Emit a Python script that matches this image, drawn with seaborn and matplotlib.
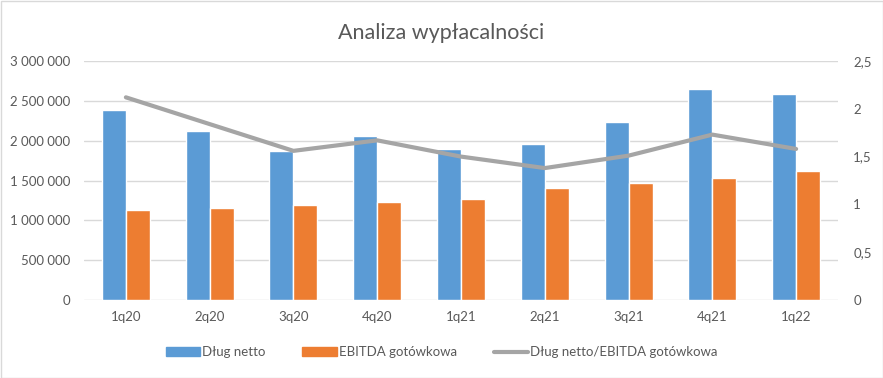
import numpy as np
import pandas as pd
import matplotlib.pyplot as plt
import matplotlib.ticker as mticker
from matplotlib.patches import Rectangle
from matplotlib.lines import Line2D
import seaborn as sns

# Data
quarters = ['1q20', '2q20', '3q20', '4q20', '1q21', '2q21', '3q21', '4q21', '1q22']
dlug_netto = [2387500, 2125000, 1875000, 2062500, 1900000, 1962500, 2237500, 2650000, 2587500]
ebitda = [1125000, 1150000, 1187500, 1225000, 1262500, 1400000, 1462500, 1537500, 1625000]
ratio = [2.12, 1.84, 1.56, 1.67, 1.50, 1.38, 1.51, 1.73, 1.58]

blue = '#5b9bd5'
orange = '#ed7d31'
grey = '#a5a5a5'
text_col = '#595959'

sns.set_style('white')
plt.rcParams['font.family'] = ['Lato', 'DejaVu Sans']

df = pd.DataFrame({
    'kwartal': quarters * 2,
    'wartosc': dlug_netto + ebitda,
    'seria': ['Dług netto'] * len(quarters) + ['EBITDA gotówkowa'] * len(quarters),
})

fig = plt.figure(figsize=(8.83, 3.78), dpi=100)
ax = fig.add_axes([84 / 883, 78 / 378, 754 / 883, 239 / 378])

sns.barplot(data=df, x='kwartal', y='wartosc', hue='seria', palette=[blue, orange],
            width=0.573, saturation=1, ax=ax, legend=False)
ax.set_ylim(0, 3000000)
ax.set_xlim(-0.5, len(quarters) - 0.5)
ax.yaxis.set_major_locator(mticker.MultipleLocator(500000))
ax.yaxis.set_major_formatter(mticker.FuncFormatter(lambda v, p: f'{int(v):,}'.replace(',', ' ')))
ax.grid(axis='y', color='#d9d9d9', linewidth=1)
ax.set_axisbelow(True)
ax.set_xlabel('')
ax.set_ylabel('')
for s in ax.spines.values():
    s.set_visible(False)
ax.tick_params(axis='both', length=0, labelsize=9.5, colors=text_col, pad=8)
ax.tick_params(axis='y', pad=10)

ax2 = ax.twinx()
sns.lineplot(x=np.arange(len(quarters)), y=ratio, color=grey, linewidth=3, ax=ax2)
ax2.set_ylim(0, 2.5)
ax2.yaxis.set_major_locator(mticker.MultipleLocator(0.5))
ax2.yaxis.set_major_formatter(mticker.FuncFormatter(lambda v, p: f'{v:g}'.replace('.', ',')))
for s in ax2.spines.values():
    s.set_visible(False)
ax2.tick_params(axis='y', length=0, labelsize=9.5, colors=text_col, pad=11)

fig.suptitle('Analiza wypłacalności', x=0.5, y=0.94, fontsize=15.5, color=text_col)

handles = [Rectangle((0, 0), 1, 1, color=blue),
           Rectangle((0, 0), 1, 1, color=orange),
           Line2D([0], [0], color=grey, linewidth=3)]
labels = ['Dług netto', 'EBITDA gotówkowa', 'Dług netto/EBITDA gotówkowa']
fig.legend(handles, labels, loc='center', bbox_to_anchor=(0.5, 0.068), ncol=3, frameon=False,
           fontsize=9.5, labelcolor=text_col, handlelength=2.6, handleheight=0.6,
           handletextpad=0.15, columnspacing=2.8)

fig.patches.append(Rectangle((0.5 / 883, 0.5 / 378), 1 - 1 / 883, 1 - 1 / 378,
                             transform=fig.transFigure, fill=False, edgecolor='#d9d9d9',
                             linewidth=1))

fig.savefig('out.png', dpi=100)
